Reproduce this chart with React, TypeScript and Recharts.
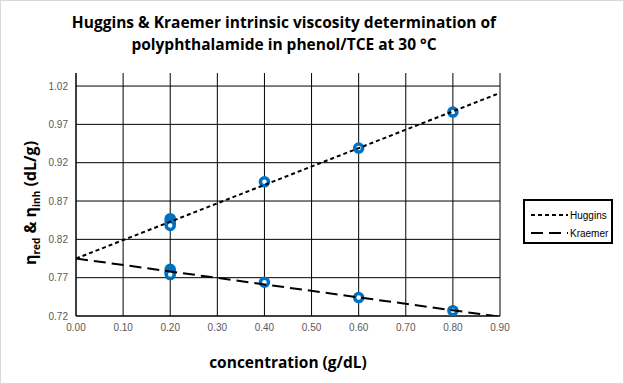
import { ScatterChart, Scatter, XAxis, YAxis, CartesianGrid } from 'recharts'

const concentration = [0.2, 0.2, 0.2, 0.2, 0.4, 0.6, 0.8]
const hugginsValues = [0.847, 0.844, 0.841, 0.838, 0.895, 0.939, 0.986]
const kraemerValues = [0.781, 0.778, 0.776, 0.774, 0.764, 0.744, 0.727]

const trendX = [0, 0.9]
const hugginsTrend = [0.795, 1.011]
const kraemerTrend = [0.795, 0.719]

const xTicks = [0, 0.1, 0.2, 0.3, 0.4, 0.5, 0.6, 0.7, 0.8, 0.9]
const yTicks = [0.72, 0.77, 0.82, 0.87, 0.92, 0.97, 1.02]

const hugginsPts = concentration.map((x, i) => ({ x, y: hugginsValues[i] }))
const kraemerPts = concentration.map((x, i) => ({ x, y: kraemerValues[i] }))
const hugginsLine = trendX.map((x, i) => ({ x, y: hugginsTrend[i] }))
const kraemerLine = trendX.map((x, i) => ({ x, y: kraemerTrend[i] }))

const FONT = '"Liberation Sans", Arial, sans-serif'
const BOLD_FONT = '"Open Sans", sans-serif'
const BLUE = '#0070c0'
const HUGGINS_DASH = '4 3'
const KRAEMER_DASH = '12 6'

const legendItems = [
  { name: 'Huggins', dash: HUGGINS_DASH },
  { name: 'Kraemer', dash: KRAEMER_DASH },
]

function Marker(props: any) {
  const { cx, cy } = props
  if (cx == null || cy == null) return <g />
  return <circle cx={cx} cy={cy} r={4} fill="#fff" stroke={BLUE} strokeWidth={3.5} />
}

function LegendBox() {
  return (
    <div style={{ position: 'absolute', left: 522, top: 198, width: 90, height: 45, border: '2px solid #000', background: '#fff', boxSizing: 'border-box', padding: '5px 0 0 6px', fontFamily: FONT, fontSize: 10, color: '#000' }}>
      {legendItems.map((it) => (
        <div key={it.name} style={{ display: 'flex', alignItems: 'center', height: 18 }}>
          <svg width={37} height={4}>
            <line x1={0} y1={2} x2={37} y2={2} stroke="#000" strokeWidth={2} strokeDasharray={it.dash} />
          </svg>
          <span style={{ marginLeft: 2 }}>{it.name}</span>
        </div>
      ))}
    </div>
  )
}

function YLabel() {
  return (
    <text transform="translate(35,202) rotate(-90)" textAnchor="middle" fontFamily={BOLD_FONT} fontWeight={700} fontSize={16} fill="#000">
      η<tspan fontSize={10} dy={4}>red</tspan>
      <tspan dy={-4}> &amp; η</tspan>
      <tspan fontSize={10} dy={4}>inh</tspan>
      <tspan dy={-4}> (dL/g)</tspan>
    </text>
  )
}

export default function App() {
  return (
    <div style={{ position: 'absolute', left: 0, top: 0, width: 624, height: 384, background: '#fff', border: '1px solid #d9d9d9', boxSizing: 'border-box' }}>
      <div style={{ position: 'absolute', left: 0, top: 0, width: 566, textAlign: 'center', fontFamily: BOLD_FONT, fontWeight: 700, fontSize: 15.5, lineHeight: '22px', paddingTop: 10, color: '#000' }}>
        Huggins &amp; Kraemer intrinsic viscosity determination of<br />polyphthalamide in phenol/TCE at 30 °C
      </div>
      <ScatterChart width={622} height={382} margin={{ top: 72, right: 123, bottom: 37, left: 29 }} style={{ position: 'absolute', left: 0, top: 0 }}>
        <CartesianGrid stroke="#000" strokeWidth={1} horizontalValues={yTicks} verticalValues={xTicks} />
        <XAxis
          type="number"
          dataKey="x"
          domain={[0, 0.9]}
          ticks={xTicks}
          tickFormatter={(v: number) => v.toFixed(2)}
          tickLine={false}
          axisLine={{ stroke: '#000' }}
          tick={{ fontFamily: FONT, fontSize: 10, fill: '#595959' }}
          height={30}
          allowDataOverflow
          label={{ value: 'concentration (g/dL)', position: 'insideBottom', offset: -22, fontFamily: BOLD_FONT, fontWeight: 700, fontSize: 15.5, fill: '#000' }}
        />
        <YAxis
          type="number"
          dataKey="y"
          domain={[0.72, 1.037]}
          ticks={yTicks}
          tickFormatter={(v: number) => v.toFixed(2)}
          tickLine={false}
          axisLine={{ stroke: '#000' }}
          tick={{ fontFamily: FONT, fontSize: 10, fill: '#595959' }}
          width={46}
          allowDataOverflow
          label={<YLabel />}
        />
        <Scatter name="Huggins data" data={hugginsPts} shape={<Marker />} isAnimationActive={false} legendType="none" />
        <Scatter name="Kraemer data" data={kraemerPts} shape={<Marker />} isAnimationActive={false} legendType="none" />
        <Scatter name="Huggins" data={hugginsLine} stroke="#000" fill="none" line={{ stroke: '#000', strokeWidth: 2, strokeDasharray: HUGGINS_DASH }} shape={() => <g />} isAnimationActive={false} />
        <Scatter name="Kraemer" data={kraemerLine} stroke="#000" fill="none" line={{ stroke: '#000', strokeWidth: 2, strokeDasharray: KRAEMER_DASH }} shape={() => <g />} isAnimationActive={false} />
      </ScatterChart>
      <LegendBox />
    </div>
  )
}
